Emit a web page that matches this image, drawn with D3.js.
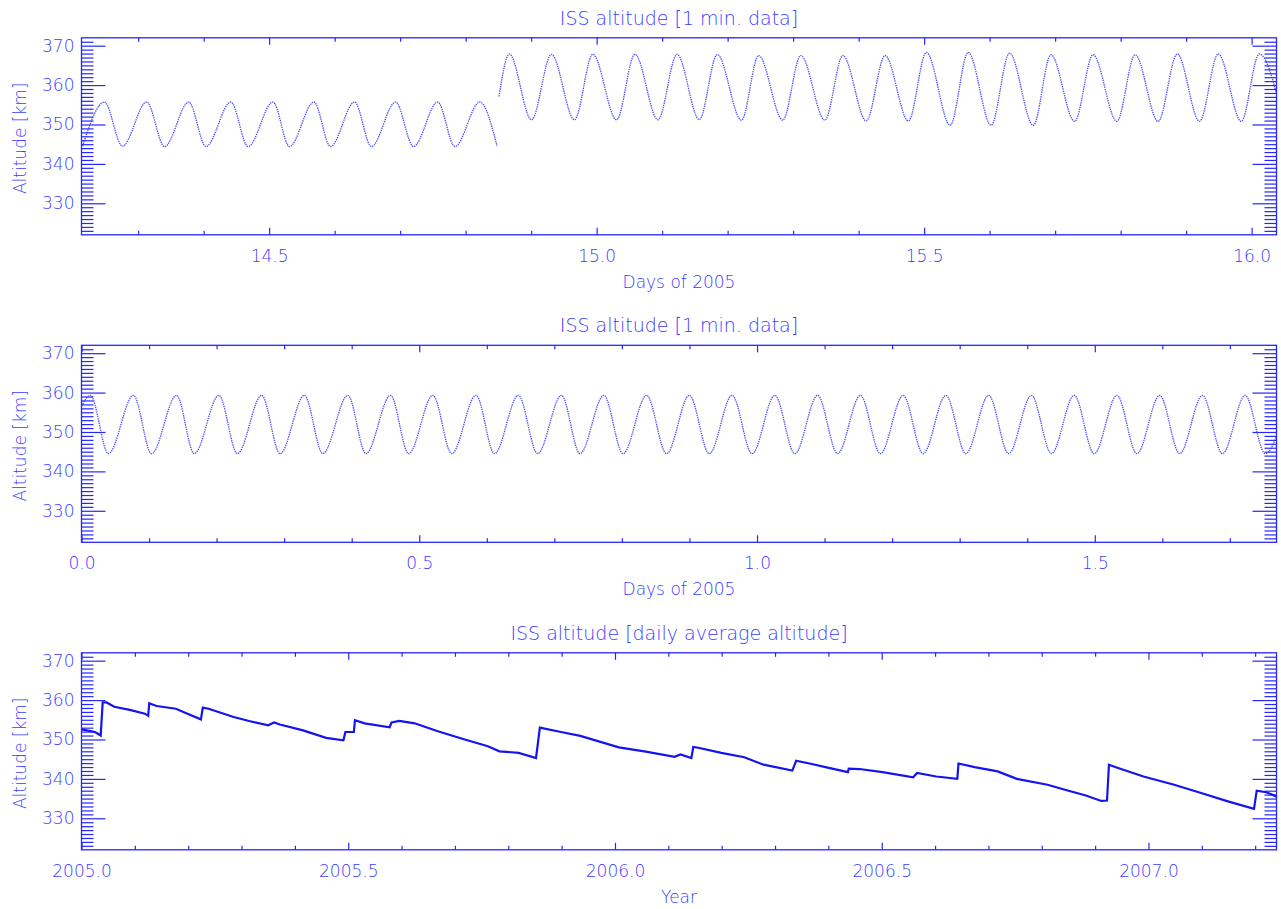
<!DOCTYPE html>
<html>
<head>
<meta charset="utf-8">
<script src="https://cdn.jsdelivr.net/npm/d3@7"></script>
<style>
body { margin: 0; background: #fff; }
text { font-family: "DejaVu Sans", sans-serif; fill: #3d3dff; font-size: 17px; font-weight: 200; }
</style>
</head>
<body>
<svg id="chart" width="1281" height="909"></svg>
<script>
// panel 1 : turning points of the 1 min. altitude, days 14.2 - 16.0 (null = data gap)
const dayA = [14.2152, 14.2485, 14.276, 14.3129, 14.3404, 14.3772, 14.4035, 14.4415, 14.4678, 14.5058,
  14.531, 14.5684, 14.5936, 14.6304, 14.6561, 14.693, 14.7205, 14.7573, 14.7836, 14.8216, 14.848,
  14.8495,
  14.8509, 14.8667, 14.9006, 14.931, 14.9661, 14.9942, 15.0304, 15.0585, 15.0936, 15.1228,
  15.1567, 15.1842, 15.2211, 15.2474, 15.2842, 15.3117, 15.3485, 15.376, 15.4117, 15.4404,
  15.476, 15.5035, 15.5398, 15.5673, 15.6023, 15.6304, 15.6667, 15.6936, 15.7298, 15.7579,
  15.7942, 15.8222, 15.8573, 15.8865, 15.9205, 15.9491, 15.9842, 16.0117, 16.048];
const altA = [344.5, 355.7, 344.5, 355.7, 344.4, 355.7, 344.4, 355.7, 344.4, 355.7,
  344.4, 355.7, 344.4, 355.7, 344.4, 355.7, 344.4, 355.7, 344.4, 355.7, 344.5,
  null,
  357.1, 367.9, 351.2, 367.8, 351.2, 367.8, 351.2, 367.8, 351.2, 367.8,
  351.25, 367.75, 351.1, 367.5, 351.1, 367.5, 351.1, 367.5, 350.9, 367.5,
  350.9, 368.3, 349.8, 368.3, 349.8, 368.1, 349.75, 367.7, 350.8, 367.7,
  350.8, 367.7, 350.8, 367.9, 350.8, 367.9, 350.8, 367.9, 351.0];

// panel 2 : turning points of the 1 min. altitude, days 0 - 1.77
const dayB = [0.0, 0.0131, 0.0399, 0.0769, 0.1037, 0.1407, 0.1670, 0.2034, 0.2308, 0.2667, 0.2940,
  0.3299, 0.3573, 0.3943, 0.4211, 0.4575, 0.4843, 0.5202, 0.5481, 0.5840, 0.6114, 0.6467, 0.6752,
  0.7105, 0.7379, 0.7732, 0.8017, 0.8365, 0.8661, 0.8998, 0.9294, 0.9631, 0.9927, 1.0264, 1.0560,
  1.0897, 1.1193, 1.1530, 1.1826, 1.2163, 1.2459, 1.2796, 1.3092, 1.3429, 1.3725, 1.4062, 1.4358,
  1.4695, 1.4991, 1.5328, 1.5624, 1.5961, 1.6257, 1.6594, 1.6890, 1.7227, 1.7523, 1.786];
const altB = [356.5, 359.3, 344.5, 359.3, 344.5, 359.3, 344.5, 359.3, 344.5, 359.3, 344.5,
  359.3, 344.5, 359.3, 344.5, 359.3, 344.5, 359.3, 344.5, 359.3, 344.5, 359.3, 344.5,
  359.3, 344.5, 359.3, 344.5, 359.3, 344.5, 359.3, 344.5, 359.3, 344.5, 359.3, 344.5,
  359.3, 344.5, 359.3, 344.5, 359.3, 344.5, 359.3, 344.5, 359.3, 344.5, 359.3, 344.5,
  359.3, 344.5, 359.3, 344.5, 359.3, 344.5, 359.3, 344.5, 359.3, 344.5, 359.3];

// panel 3 : daily average altitude, 2005 - 2007.24
const yearC = [2005.0, 2005.0253, 2005.036, 2005.0397, 2005.047, 2005.0614, 2005.0903, 2005.119, 2005.125,
  2005.127, 2005.1408, 2005.1769, 2005.1986, 2005.2238, 2005.2274, 2005.2383, 2005.2852, 2005.3141,
  2005.3502, 2005.361, 2005.3718, 2005.4152, 2005.4585, 2005.491, 2005.4946, 2005.5105, 2005.5126,
  2005.5307, 2005.5776, 2005.5812, 2005.5957, 2005.6245, 2005.6679, 2005.7184, 2005.7617, 2005.7834,
  2005.8195, 2005.852, 2005.8592, 2005.8989, 2005.935, 2006.0072, 2006.0578, 2006.1119, 2006.1227,
  2006.1432, 2006.1468, 2006.1561, 2006.1993, 2006.2424, 2006.2784, 2006.3324, 2006.3396, 2006.3647,
  2006.4007, 2006.4367, 2006.4381, 2006.4583, 2006.5014, 2006.559, 2006.5662, 2006.6022, 2006.6417,
  2006.6439, 2006.6741, 2006.7173, 2006.7532, 2006.8108, 2006.8468, 2006.8827, 2006.9115, 2006.9223,
  2006.9259, 2006.9403, 2006.9906, 2007.0482, 2007.0986, 2007.1489, 2007.1978, 2007.2029, 2007.2209,
  2007.2475];
const altC = [352.55, 351.9, 351.0, 359.4, 359.4, 358.3, 357.5, 356.55, 356.0,
  359.2, 358.5, 357.8, 356.55, 355.1, 358.1, 357.8, 355.7, 354.7,
  353.6, 354.3, 353.8, 352.3, 350.4, 349.8, 351.9, 351.9, 354.9,
  354.1, 353.1, 354.3, 354.7, 354.1, 352.1, 350.0, 348.3, 347.0,
  346.6, 345.3, 353.0, 351.9, 350.9, 348.0, 346.9, 345.6, 346.2,
  345.3, 348.1, 347.9, 346.6, 345.5, 343.6, 342.1, 344.6, 343.9,
  342.8, 341.7, 342.6, 342.5, 341.7, 340.4, 341.5, 340.6, 340.0,
  343.9, 343.0, 341.9, 340.0, 338.5, 337.1, 335.8, 334.4, 334.5,
  343.6, 342.9, 340.6, 338.5, 336.4, 334.3, 332.4, 337.0, 336.6,
  335.1];

const titles = ["ISS altitude [1 min. data]", "ISS altitude [1 min. data]", "ISS altitude [daily average altitude]"];
const xTitles = ["Days of 2005", "Days of 2005", "Year"];
const xDomains = [[14.2135, 16.038], [0, 1.769], [2005.0, 2007.24]];
const xMajor = [[14.5, 15.0, 15.5, 16.0], [0.0, 0.5, 1.0, 1.5], [2005.0, 2005.5, 2006.0, 2006.5, 2007.0]];
const yMajor = [330, 340, 350, 360, 370];

const axisColor = "#2626ff";
const left = 81.5, right = 1276.5, ph = 197, tops = [37.8, 345.3, 652.8];
const svg = d3.select("#chart");

const series = [
  d3.zip(dayA, altA),
  d3.zip(dayB, altB),
  d3.zip(yearC, altC)
];

series.forEach(function(data, i) {
  const top = tops[i], bottom = top + ph;
  const x = d3.scaleLinear().domain(xDomains[i]).range([left, right]);
  const y = d3.scaleLinear().domain([322, 372]).range([bottom, top]);
  const g = svg.append("g");

  // minor ticks every 0.1 on x, every 1 km on y
  const xd = xDomains[i];
  const xMinor = d3.range(Math.ceil(xd[0] * 10), Math.floor(xd[1] * 10) + 1).map(function(v) { return v / 10; })
    .filter(function(v) { return !xMajor[i].some(function(m) { return Math.abs(m - v) < 1e-6; }); });
  const yMinor = d3.range(323, 372).filter(function(v) { return v % 10 !== 0; });

  function addAxis(axis, tx, ty, labels) {
    const a = g.append("g").attr("transform", "translate(" + tx + "," + ty + ")").call(axis);
    a.select(".domain").remove();
    a.selectAll("line").attr("stroke", axisColor).attr("stroke-width", 1.2);
    if (!labels) a.selectAll("text").remove();
    else a.selectAll("text").attr("fill", null).attr("font-size", null).attr("font-family", null);
    return a;
  }

  addAxis(d3.axisBottom(x).tickValues(xMajor[i]).tickSizeInner(-7).tickSizeOuter(0).tickPadding(15).tickFormat(d3.format(".1f")), 0, bottom, true);
  addAxis(d3.axisBottom(x).tickValues(xMinor).tickSizeInner(-4).tickSizeOuter(0), 0, bottom, false);
  addAxis(d3.axisTop(x).tickValues(xMajor[i]).tickSizeInner(-7).tickSizeOuter(0), 0, top, false);
  addAxis(d3.axisTop(x).tickValues(xMinor).tickSizeInner(-4).tickSizeOuter(0), 0, top, false);
  addAxis(d3.axisLeft(y).tickValues(yMajor).tickSizeInner(-24).tickSizeOuter(0).tickPadding(7).tickFormat(d3.format("d")), left, 0, true);
  addAxis(d3.axisLeft(y).tickValues(yMinor).tickSizeInner(-12).tickSizeOuter(0), left, 0, false);
  addAxis(d3.axisRight(y).tickValues(yMajor).tickSizeInner(-24).tickSizeOuter(0), right, 0, false);
  addAxis(d3.axisRight(y).tickValues(yMinor).tickSizeInner(-12).tickSizeOuter(0), right, 0, false);

  g.append("rect")
    .attr("x", left).attr("y", top).attr("width", right - left).attr("height", ph)
    .attr("fill", "none").attr("stroke", axisColor).attr("stroke-width", 1.3);

  g.append("clipPath").attr("id", "clip" + i)
    .append("rect").attr("x", left).attr("y", top).attr("width", right - left).attr("height", ph);

  const line = d3.line()
    .defined(function(d) { return d[1] != null; })
    .x(function(d) { return x(d[0]); })
    .y(function(d) { return y(d[1]); })
    .curve(i < 2 ? d3.curveMonotoneX : d3.curveLinear);

  const path = g.append("path")
    .datum(data)
    .attr("clip-path", "url(#clip" + i + ")")
    .attr("fill", "none")
    .attr("d", line);
  if (i < 2) {
    path.attr("stroke", "#3030ff").attr("stroke-width", 1.3).attr("stroke-opacity", 0.85)
      .attr("stroke-dasharray", "1.4,0.9");
  } else {
    path.attr("stroke", "#1414f0").attr("stroke-width", 2.2).attr("stroke-linejoin", "miter");
  }

  g.append("text")
    .attr("x", (left + right) / 2).attr("y", top - 13)
    .attr("text-anchor", "middle")
    .style("font-size", "19px")
    .text(titles[i]);

  g.append("text")
    .attr("x", (left + right) / 2).attr("y", bottom + 53)
    .attr("text-anchor", "middle")
    .text(xTitles[i]);

  g.append("text")
    .attr("transform", "translate(26," + (top + ph / 2 + 2) + ") rotate(-90)")
    .attr("text-anchor", "middle")
    .text("Altitude [km]");
});
</script>
</body>
</html>
